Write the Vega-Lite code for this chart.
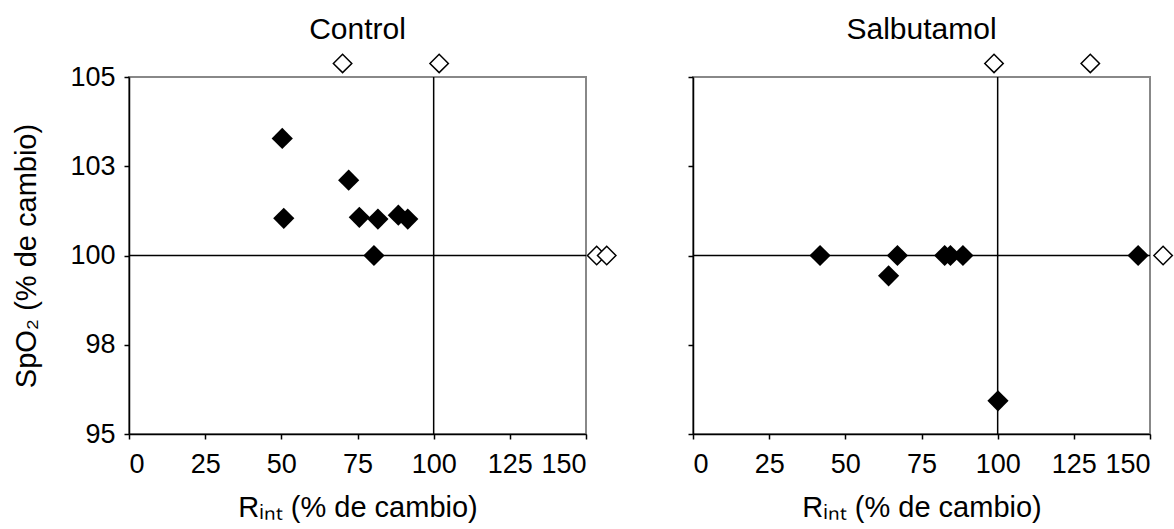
{
  "$schema": "https://vega.github.io/schema/vega-lite/v6.json",
  "background": "white",
  "padding": {"left": 11, "top": 14, "right": 5, "bottom": 2},
  "spacing": 66,
  "config": {
    "view": {"stroke": "#888888", "strokeWidth": 2},
    "font": "Liberation Sans",
    "axis": {
      "grid": false,
      "domainColor": "#000000",
      "domainWidth": 1.5,
      "tickColor": "#000000",
      "tickWidth": 1.5,
      "tickSize": 5,
      "labelFont": "Liberation Sans",
      "labelFontSize": 27,
      "labelColor": "#000000",
      "titleFont": "Liberation Sans",
      "titleFontSize": 29,
      "titleFontWeight": "normal",
      "titleColor": "#000000"
    },
    "axisX": {"labelPadding": 12, "titlePadding": 16},
    "axisY": {"labelPadding": 9, "titlePadding": 28},
    "title": {"font": "Liberation Sans", "fontSize": 30, "fontWeight": "normal", "color": "#000000", "offset": 6}
  },
  "datasets": {
    "pts": [
      {"panel": "Control", "tipo": "dentro", "x": 50.3, "y": 103.28},
      {"panel": "Control", "tipo": "dentro", "x": 50.8, "y": 101.04},
      {"panel": "Control", "tipo": "dentro", "x": 72.1, "y": 102.11},
      {"panel": "Control", "tipo": "dentro", "x": 75.6, "y": 101.07},
      {"panel": "Control", "tipo": "dentro", "x": 81.7, "y": 101.02},
      {"panel": "Control", "tipo": "dentro", "x": 88.4, "y": 101.13},
      {"panel": "Control", "tipo": "dentro", "x": 91.5, "y": 101.02},
      {"panel": "Control", "tipo": "dentro", "x": 80.4, "y": 100.0},
      {"panel": "Control", "tipo": "fuera", "x": 70.1, "y": 105.38},
      {"panel": "Control", "tipo": "fuera", "x": 101.8, "y": 105.38},
      {"panel": "Control", "tipo": "fuera", "x": 153.5, "y": 100.0},
      {"panel": "Control", "tipo": "fuera", "x": 156.8, "y": 100.0},
      {"panel": "Salbutamol", "tipo": "dentro", "x": 41.7, "y": 100.0},
      {"panel": "Salbutamol", "tipo": "dentro", "x": 64.2, "y": 99.43},
      {"panel": "Salbutamol", "tipo": "dentro", "x": 67.1, "y": 100.0},
      {"panel": "Salbutamol", "tipo": "dentro", "x": 82.6, "y": 100.0},
      {"panel": "Salbutamol", "tipo": "dentro", "x": 84.5, "y": 100.0},
      {"panel": "Salbutamol", "tipo": "dentro", "x": 88.6, "y": 100.0},
      {"panel": "Salbutamol", "tipo": "dentro", "x": 146.1, "y": 100.0},
      {"panel": "Salbutamol", "tipo": "dentro", "x": 100.1, "y": 95.93},
      {"panel": "Salbutamol", "tipo": "fuera", "x": 98.8, "y": 105.38},
      {"panel": "Salbutamol", "tipo": "fuera", "x": 130.4, "y": 105.38},
      {"panel": "Salbutamol", "tipo": "fuera", "x": 154.3, "y": 100.0}
    ],
    "ref": [{"x": 100, "y": 100}]
  },
  "hconcat": [
    {
      "title": "Control",
      "width": 457,
      "height": 357,
      "layer": [
        {
          "data": {"name": "ref"},
          "mark": {"type": "rule", "color": "#000000", "strokeWidth": 1.5},
          "encoding": {
            "y": {"field": "y", "type": "quantitative", "title": "SpO₂ (% de cambio)", "scale": {"domain": [95, 105], "nice": false, "zero": false}, "axis": {"values": [95, 97.5, 100, 102.5, 105], "format": ".0f"}}
          }
        },
        {
          "data": {"name": "ref"},
          "mark": {"type": "rule", "color": "#000000", "strokeWidth": 1.5},
          "encoding": {
            "x": {"field": "x", "type": "quantitative", "title": "Rᵢₙₜ (% de cambio)", "scale": {"domain": [0, 150], "nice": false, "zero": false}, "axis": {"values": [0, 25, 50, 75, 100, 125, 150]}}
          }
        },
        {
          "data": {"name": "pts"},
          "transform": [{"filter": "datum.panel === 'Control' && datum.tipo === 'dentro'"}],
          "mark": {"type": "point", "shape": "diamond", "filled": true, "color": "#000000", "size": 450, "opacity": 1},
          "encoding": {
            "x": {"field": "x", "type": "quantitative", "title": "Rᵢₙₜ (% de cambio)"},
            "y": {"field": "y", "type": "quantitative", "title": "SpO₂ (% de cambio)"}
          }
        },
        {
          "data": {"name": "pts"},
          "transform": [{"filter": "datum.panel === 'Control' && datum.tipo === 'fuera'"}],
          "mark": {"type": "point", "shape": "diamond", "filled": false, "fill": "#ffffff", "fillOpacity": 1, "stroke": "#000000", "strokeWidth": 1.5, "size": 340, "opacity": 1, "clip": false},
          "encoding": {
            "x": {"field": "x", "type": "quantitative", "title": "Rᵢₙₜ (% de cambio)"},
            "y": {"field": "y", "type": "quantitative", "title": "SpO₂ (% de cambio)"}
          }
        }
      ]
    },
    {
      "title": "Salbutamol",
      "width": 457,
      "height": 357,
      "layer": [
        {
          "data": {"name": "ref"},
          "mark": {"type": "rule", "color": "#000000", "strokeWidth": 1.5},
          "encoding": {
            "y": {"field": "y", "type": "quantitative", "title": null, "scale": {"domain": [95, 105], "nice": false, "zero": false}, "axis": {"values": [95, 97.5, 100, 102.5, 105], "labels": false, "title": null}}
          }
        },
        {
          "data": {"name": "ref"},
          "mark": {"type": "rule", "color": "#000000", "strokeWidth": 1.5},
          "encoding": {
            "x": {"field": "x", "type": "quantitative", "title": "Rᵢₙₜ (% de cambio)", "scale": {"domain": [0, 150], "nice": false, "zero": false}, "axis": {"values": [0, 25, 50, 75, 100, 125, 150]}}
          }
        },
        {
          "data": {"name": "pts"},
          "transform": [{"filter": "datum.panel === 'Salbutamol' && datum.tipo === 'dentro'"}],
          "mark": {"type": "point", "shape": "diamond", "filled": true, "color": "#000000", "size": 450, "opacity": 1},
          "encoding": {
            "x": {"field": "x", "type": "quantitative", "title": "Rᵢₙₜ (% de cambio)"},
            "y": {"field": "y", "type": "quantitative", "title": null}
          }
        },
        {
          "data": {"name": "pts"},
          "transform": [{"filter": "datum.panel === 'Salbutamol' && datum.tipo === 'fuera'"}],
          "mark": {"type": "point", "shape": "diamond", "filled": false, "fill": "#ffffff", "fillOpacity": 1, "stroke": "#000000", "strokeWidth": 1.5, "size": 340, "opacity": 1, "clip": false},
          "encoding": {
            "x": {"field": "x", "type": "quantitative", "title": "Rᵢₙₜ (% de cambio)"},
            "y": {"field": "y", "type": "quantitative", "title": null}
          }
        }
      ]
    }
  ]
}
